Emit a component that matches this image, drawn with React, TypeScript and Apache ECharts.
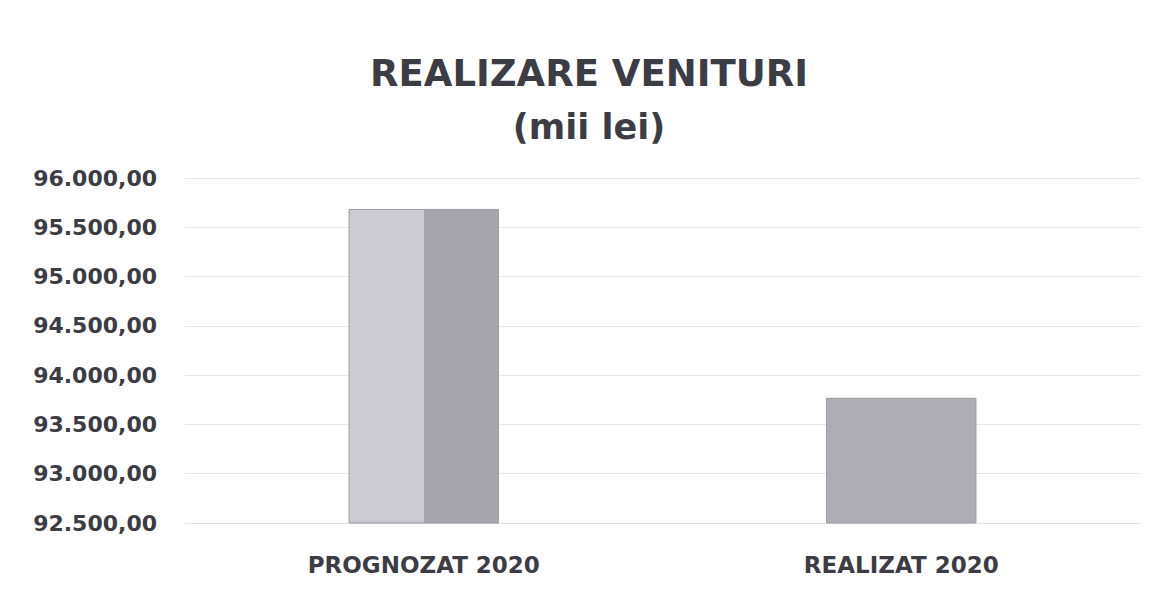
import React, { useEffect, useRef } from "react";
import * as echarts from "echarts";

const categories = ["PROGNOZAT 2020", "REALIZAT 2020"];
const values = [95686, 93770];
const yMin = 92500;
const yMax = 96000;
const yStep = 500;

function fmt(v: number): string {
  const [i, d] = v.toFixed(2).split(".");
  return i.replace(/\B(?=(\d{3})+(?!\d))/g, ".") + "," + d;
}

export default function App() {
  const ref = useRef<HTMLDivElement>(null);
  useEffect(() => {
    if (!ref.current) return;
    const chart = echarts.init(ref.current, null, { renderer: "svg" });
    const font = "'DejaVu Sans', Verdana, sans-serif";
    chart.setOption({
      animation: false,
      backgroundColor: "#ffffff",
      title: {
        text: "REALIZARE VENITURI",
        subtext: "(mii lei)",
        left: 584,
        textAlign: "center",
        top: 50,
        itemGap: 17,
        textStyle: { fontFamily: font, fontWeight: "bold", fontSize: 37, color: "#3c3c44" },
        subtextStyle: { fontFamily: font, fontWeight: "bold", fontSize: 35, color: "#3c3c44" },
      },
      grid: { left: 185, right: 11, top: 178, bottom: 66 },
      xAxis: {
        type: "category",
        data: categories,
        axisLine: { show: true, lineStyle: { color: "#e2e2e2" } },
        axisTick: { show: false },
        axisLabel: {
          margin: 30,
          fontFamily: font,
          fontWeight: "bold",
          fontSize: 23,
          color: "#3c3c44",
        },
      },
      yAxis: {
        type: "value",
        min: yMin,
        max: yMax,
        interval: yStep,
        axisLine: { show: false },
        axisTick: { show: false },
        splitLine: { lineStyle: { color: "#e6e6e6", width: 1 } },
        axisLabel: {
          formatter: (v: number) => fmt(v),
          margin: 28,
          fontFamily: font,
          fontWeight: "bold",
          fontSize: 22,
          color: "#3c3c44",
        },
      },
      series: [
        {
          type: "bar",
          barWidth: "31.5%",
          data: values.map((v, i) => ({
            value: v,
            itemStyle:
              i === 0
                ? {
                    color: new echarts.graphic.LinearGradient(1, 0, 0, 0, [
                      { offset: 0, color: "#a6a5ad" },
                      { offset: 0.5, color: "#a6a5ad" },
                      { offset: 0.5, color: "#cccbd2" },
                      { offset: 1, color: "#cccbd2" },
                    ]),
                  }
                : { color: "#aeadb4" },
          })),
          itemStyle: { borderColor: "#9c9ba2", borderWidth: 1 },
        },
      ],
    });
    return () => chart.dispose();
  }, []);
  return (
    <div
      ref={ref}
      style={{ position: "fixed", left: 0, top: 0, width: 1151, height: 589 }}
    />
  );
}
